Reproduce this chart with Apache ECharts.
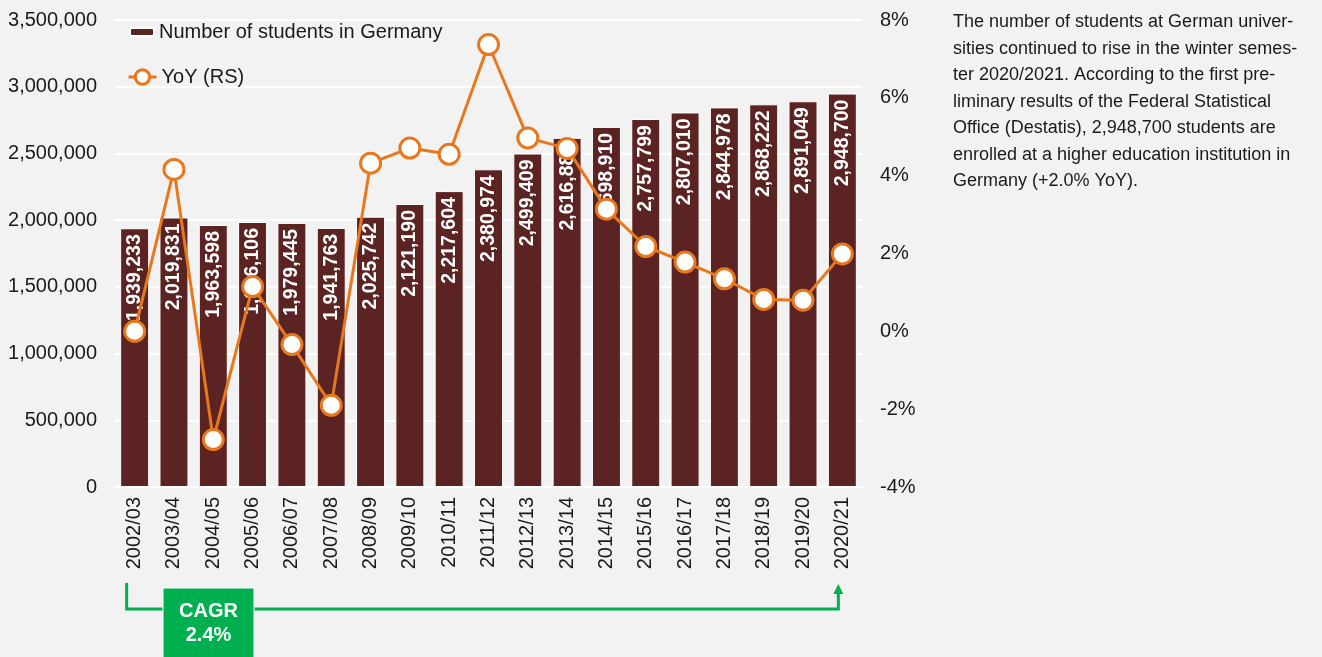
<!DOCTYPE html>
<html>
<head>
<meta charset="utf-8">
<script src="https://cdn.jsdelivr.net/npm/echarts@6/dist/echarts.min.js"></script>
<style>
html,body{margin:0;padding:0;background:#f2f2f2;}
#c{width:1322px;height:657px;}
</style>
</head>
<body>
<div id="c"></div>
<script>
var categories = ['2002/03','2003/04','2004/05','2005/06','2006/07','2007/08','2008/09','2009/10','2010/11','2011/12','2012/13','2013/14','2014/15','2015/16','2016/17','2017/18','2018/19','2019/20','2020/21'];
var students = [1939233, 2019831, 1963598, 1986106, 1979445, 1941763, 2025742, 2121190, 2217604, 2380974, 2499409, 2616881, 2698910, 2757799, 2807010, 2844978, 2868222, 2891049, 2948700];
var yoy = [0.0, 4.16, -2.78, 1.15, -0.34, -1.90, 4.32, 4.71, 4.55, 7.37, 4.97, 4.70, 3.14, 2.18, 1.78, 1.35, 0.82, 0.80, 1.99];
var leftTicks = {min: 0, max: 3500000, interval: 500000};
var rightTicks = {min: -4, max: 8, interval: 2};
var seriesNames = ['Number of students in Germany', 'YoY (RS)'];
var cagrLabel = ['CAGR', '2.4%'];
var noteLines = [
  'The number of students at German univer-',
  'sities continued to rise in the winter semes-',
  'ter 2020/2021. According to the first pre-',
  'liminary results of the Federal Statistical',
  'Office (Destatis), 2,948,700 students are',
  'enrolled at a higher education institution in',
  'Germany (+2.0% YoY).'
];

var FONT = "'Liberation Sans', Arial, sans-serif";
var BAR = '#5c2323';
var ORANGE = '#e8781e';
var GREEN = '#00b050';
function fmt(n){ return String(n).replace(/\B(?=(\d{3})+(?!\d))/g, ','); }

var chart = echarts.init(document.getElementById('c'), null, {renderer: 'canvas'});
var option = {
  backgroundColor: '#f2f2f2',
  animation: false,
  textStyle: {fontFamily: FONT},
  grid: {left: 115, right: 460, top: 20, bottom: 170, containLabel: false},
  legend: [
    {data: [seriesNames[0]], orient: 'vertical', left: 124, top: 17, itemWidth: 24, itemHeight: 8, itemGap: 4,
     textStyle: {fontSize: 20, color: '#1a1a1a', fontFamily: FONT}, selectedMode: false},
    {data: [seriesNames[1]], orient: 'vertical', left: 122, top: 62, itemWidth: 28, itemHeight: 18, itemGap: 4,
     lineStyle: {color: ORANGE, width: 3},
     itemStyle: {color: '#ffffff', borderColor: ORANGE, borderWidth: 3},
     textStyle: {fontSize: 20, color: '#1a1a1a', fontFamily: FONT}, selectedMode: false}
  ],
  xAxis: {
    type: 'category', data: categories,
    axisLine: {show: true, lineStyle: {color: '#ffffff', width: 2}},
    axisTick: {show: false},
    axisLabel: {rotate: 90, fontSize: 20, color: '#1a1a1a', margin: 10, fontFamily: FONT}
  },
  yAxis: [
    {type: 'value', min: leftTicks.min, max: leftTicks.max, interval: leftTicks.interval,
     axisLine: {show: false}, axisTick: {show: false},
     splitLine: {show: true, lineStyle: {color: '#ffffff', width: 2}},
     axisLabel: {fontSize: 20, color: '#1a1a1a', margin: 18, fontFamily: FONT, formatter: function(v){ return fmt(v); }}},
    {type: 'value', min: rightTicks.min, max: rightTicks.max, interval: rightTicks.interval,
     axisLine: {show: false}, axisTick: {show: false}, splitLine: {show: false},
     axisLabel: {fontSize: 20, color: '#1a1a1a', margin: 18, fontFamily: FONT, formatter: '{value}%'}}
  ],
  series: [
    {name: seriesNames[0], type: 'bar', data: students, barWidth: 29,
     itemStyle: {color: BAR, borderColor: '#ffffff', borderWidth: 1},
     label: {show: true, position: 'insideTop', rotate: 90, align: 'right', verticalAlign: 'middle', distance: 6,
       color: '#ffffff', fontWeight: 'bold', fontSize: 19.5, fontFamily: FONT,
       formatter: function(p){ return fmt(p.value); }}},
    {name: seriesNames[1], type: 'line', yAxisIndex: 1, data: yoy, symbol: 'circle', symbolSize: 20,
     itemStyle: {color: '#ffffff', borderColor: ORANGE, borderWidth: 3},
     lineStyle: {color: ORANGE, width: 3}, z: 5}
  ]
};
chart.setOption(option);

var x0 = chart.convertToPixel({xAxisIndex: 0}, categories[0]);
var xN = chart.convertToPixel({xAxisIndex: 0}, categories[categories.length - 1]);
var lx = x0 - 8, rx = xN - 4, yTop = 583, yLine = 609;
chart.setOption({
  graphic: [
    {type: 'polyline', shape: {points: [[lx, yTop], [lx, yLine], [rx, yLine], [rx, 592]]},
     style: {stroke: GREEN, lineWidth: 3, fill: null}, z: 10},
    {type: 'polygon', shape: {points: [[rx - 5, 594], [rx + 5, 594], [rx, 584]]},
     style: {fill: GREEN}, z: 10},
    {type: 'rect', shape: {x: 163, y: 588, width: 91, height: 75},
     style: {fill: GREEN, stroke: '#ffffff', lineWidth: 1}, z: 11},
    {type: 'text', x: 208.5, y: 611, z: 12,
     style: {text: cagrLabel[0], fill: '#ffffff', font: 'bold 20px ' + FONT, textAlign: 'center', textVerticalAlign: 'middle'}},
    {type: 'text', x: 208.5, y: 635, z: 12,
     style: {text: cagrLabel[1], fill: '#ffffff', font: 'bold 20px ' + FONT, textAlign: 'center', textVerticalAlign: 'middle'}},
    {type: 'text', x: 953, y: 9, z: 12,
     style: {text: noteLines.join('\n'), fill: '#1a1a1a', font: '18px ' + FONT, lineHeight: 26.5, textAlign: 'left', textVerticalAlign: 'top'}}
  ]
});
</script>
</body>
</html>
